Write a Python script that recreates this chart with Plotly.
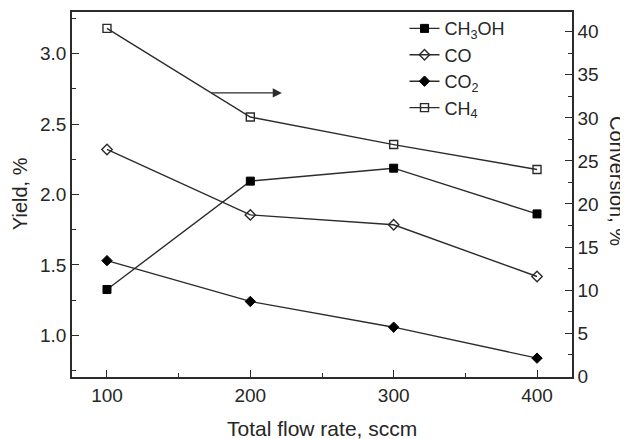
import plotly.graph_objects as go

flow = [100, 200, 300, 400]
ch3oh_yield = [1.325, 2.095, 2.187, 1.862]
co_yield = [2.32, 1.855, 1.785, 1.417]
co2_yield = [1.53, 1.24, 1.057, 0.837]
ch4_conversion = [40.4, 30.1, 26.9, 24.0]

FONT = "Liberation Sans, Arial, sans-serif"
LC = "#2b2b2b"
TC = "#262626"

fig = go.Figure()
common_line = dict(color=LC, width=1.4)

fig.add_trace(go.Scatter(x=flow, y=ch3oh_yield, name="CH<sub>3</sub>OH", mode="lines+markers",
                         line=common_line,
                         marker=dict(symbol="square", size=8, color="black", line=dict(color="black", width=1))))
fig.add_trace(go.Scatter(x=flow, y=co_yield, name="CO", mode="lines+markers",
                         line=common_line,
                         marker=dict(symbol="diamond-open", size=8, color=LC, line=dict(width=1.4))))
fig.add_trace(go.Scatter(x=flow, y=co2_yield, name="CO<sub>2</sub>", mode="lines+markers",
                         line=common_line,
                         marker=dict(symbol="diamond", size=8, color="black", line=dict(color="black", width=1))))
fig.add_trace(go.Scatter(x=flow, y=ch4_conversion, name="CH<sub>4</sub>", mode="lines+markers",
                         line=common_line, yaxis="y2",
                         marker=dict(symbol="square-open", size=8, color=LC, line=dict(width=1.4))))

fig.add_annotation(x=222, y=32.9, ax=172, ay=32.9, xref="x", yref="y2", axref="x", ayref="y2",
                   text="", showarrow=True, arrowhead=2, arrowsize=1.3, arrowwidth=1.4, arrowcolor=LC)

title_font = dict(family=FONT, size=20, color=TC)
fig.add_annotation(text="Yield, %", xref="paper", yref="paper", x=-0.104, y=0.501, textangle=-90,
                   showarrow=False, xanchor="center", yanchor="middle", font=title_font)
fig.add_annotation(text="Conversion, %", xref="paper", yref="paper", x=1.09, y=0.537, textangle=90,
                   showarrow=False, xanchor="center", yanchor="middle", font=title_font)
fig.add_annotation(text="Total flow rate, sccm", xref="paper", yref="paper", x=0.5, y=-0.142,
                   showarrow=False, xanchor="center", yanchor="middle", font=dict(family=FONT, size=21, color=TC))

axis_common = dict(showline=True, linecolor=LC, linewidth=1.5, ticks="inside", tickcolor=LC,
                   tickwidth=1.3, showgrid=False, zeroline=False, automargin=False,
                   tickfont=dict(family=FONT, size=19, color=TC))

# the page body has an 8px default margin, so the figure is sized/margined to compensate
fig.update_layout(
    width=620, height=431,
    margin=dict(l=64, r=56, t=2, b=62),
    paper_bgcolor="white", plot_bgcolor="white",
    font=dict(family=FONT, size=18, color=TC),
    xaxis=dict(range=[75.6, 424.4], tickvals=[100, 200, 300, 400], ticklen=7, mirror=True,
               minor=dict(tickvals=[150, 250, 350], ticks="inside", ticklen=4, tickcolor=LC),
               **axis_common),
    yaxis=dict(range=[0.703, 3.297], tickvals=[1.0, 1.5, 2.0, 2.5, 3.0], ticktext=["1.0", "1.5", "2.0", "2.5", "3.0"],
               ticklen=7,
               minor=dict(tickvals=[0.75, 1.25, 1.75, 2.25, 2.75, 3.25], ticks="inside", ticklen=4, tickcolor=LC),
               **axis_common),
    yaxis2=dict(overlaying="y", side="right", range=[-0.1, 42.3], tickvals=[0, 5, 10, 15, 20, 25, 30, 35, 40],
                ticklen=7,
                minor=dict(tickvals=[2.5, 7.5, 12.5, 17.5, 22.5, 27.5, 32.5, 37.5, 42.5], ticks="inside", ticklen=4, tickcolor=LC),
                **axis_common),
    legend=dict(x=0.665, y=1.005, xanchor="left", yanchor="top", bgcolor="rgba(0,0,0,0)",
                font=dict(family=FONT, size=18, color=TC), tracegroupgap=0, itemwidth=30),
    showlegend=True,
)

fig.write_html("out.html")
